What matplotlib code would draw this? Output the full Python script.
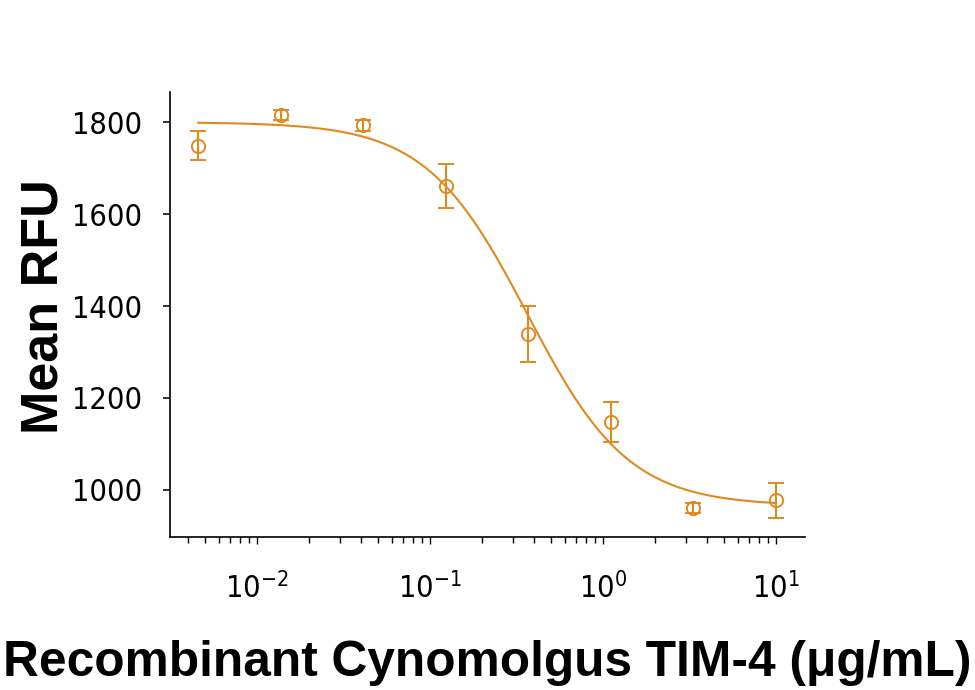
import numpy as np
import matplotlib
matplotlib.use('Agg')
import matplotlib.pyplot as plt
from matplotlib import font_manager

# TIM-4 concentration (ug/mL) and mean RFU
conc = [0.00457, 0.0137, 0.0412, 0.123, 0.370, 1.11, 3.33, 10.0]
rfu = [1749, 1816, 1793, 1661, 1339, 1148, 960, 977]
rfu_err = [32, 11, 12, 47, 60, 43, 11, 38]

# 4-parameter logistic fit
fit_top = 1800
fit_bottom = 965
fit_ec50 = 0.365
fit_hill = 1.48

yticks = [1000, 1200, 1400, 1600, 1800]
xticks = [0.01, 0.1, 1, 10]
xtick_labels = ['$\\mathdefault{10^{-2}}$', '$\\mathdefault{10^{-1}}$',
                '$\\mathdefault{10^{0}}$', '$\\mathdefault{10^{1}}$']

orange = '#DF8A1F'

# pick a narrow face for the tick labels if one is there
names = {f.name for f in font_manager.fontManager.ttflist}
stretches = {(f.name, f.stretch) for f in font_manager.fontManager.ttflist}
if 'Liberation Sans Narrow' in names:
    tick_font = dict(family='Liberation Sans Narrow', size=23)
elif ('DejaVu Sans', 'condensed') in stretches or ('DejaVu Sans', 'semi-condensed') in stretches:
    tick_font = dict(family='DejaVu Sans', stretch='condensed', size=22)
else:
    tick_font = dict(family='Liberation Sans', size=21)
label_font = 'Liberation Sans'

fig = plt.figure(figsize=(9.75, 6.9), dpi=100)
ax = fig.add_axes([0.1747, 0.2222, 0.6509, 0.644])

xfit = np.logspace(np.log10(conc[0]), np.log10(conc[-1]), 300)
yfit = fit_bottom + (fit_top - fit_bottom) / (1 + (xfit / fit_ec50) ** fit_hill)
ax.plot(xfit, yfit, color=orange, lw=1.5)

ax.errorbar(conc, rfu, yerr=rfu_err, fmt='o', mfc='none', mec=orange,
            mew=1.4, ms=9.5, ecolor=orange, elinewidth=1.5, capsize=5.7,
            capthick=1.5)

ax.set_xscale('log')
ax.set_xlim(0.00315, 14.7)
ax.set_ylim(898, 1865)

ax.set_yticks(yticks)
ax.set_yticklabels([str(v) for v in yticks])
ax.set_xticks(xticks)
ax.set_xticklabels(xtick_labels)

for s in ['top', 'right']:
    ax.spines[s].set_visible(False)
for s in ['left', 'bottom']:
    ax.spines[s].set_linewidth(1.2)

ax.tick_params(axis='y', which='major', length=5, width=1.1, pad=15)
ax.tick_params(axis='x', which='major', length=5, width=1.0, pad=20)
ax.tick_params(axis='x', which='minor', length=4, width=1.0)

for lab in ax.get_xticklabels() + ax.get_yticklabels():
    lab.set_fontfamily(tick_font['family'])
    lab.set_fontsize(tick_font['size'])
    if 'stretch' in tick_font:
        lab.set_fontstretch(tick_font['stretch'])

ax.set_xlabel('Recombinant Cynomolgus TIM-4 (\u03bcg/mL)', fontsize=35.7,
              fontweight='bold', fontfamily=label_font)
ax.set_ylabel('Mean RFU', fontsize=37.5, fontweight='bold',
              fontfamily=label_font)
ax.xaxis.set_label_coords(0.5, -0.232)
ax.yaxis.set_label_coords(-0.16, 0.518)

fig.savefig('out.png', dpi=100)
